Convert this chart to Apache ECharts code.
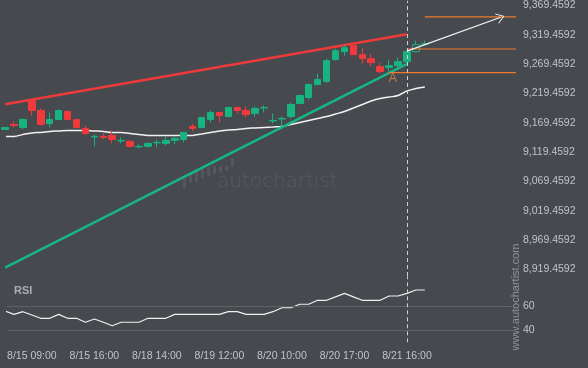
<!DOCTYPE html>
<html><head><meta charset="utf-8">
<script src="https://cdn.jsdelivr.net/npm/echarts@6/dist/echarts.min.js"></script>
<style>html,body{margin:0;padding:0;background:#46494e;}#c{width:588px;height:368px;}</style>
</head><body><div id="c"></div>
<script>
// ---- data ----
const timeLabels = ['8/15 09:00','8/15 16:00','8/18 14:00','8/19 12:00','8/20 10:00','8/20 17:00','8/21 16:00'];
const timeLabelIdx = [3,10,17,24,31,38,45];
const priceTicks = [8919.4592,8969.4592,9019.4592,9069.4592,9119.4592,9169.4592,9219.4592,9269.4592,9319.4592,9369.4592];
const rsiTicks = [40,60];
// candles: [open, close, low, high]
const candles = [
[9158.1,9161.5,9158.1,9161.5],[9166.6,9164.9,9161.5,9171.7],[9161.5,9175.1,9158.1,9176.8],[9207.4,9190.4,9181.9,9207.4],
[9190.4,9166.6,9164.9,9193.8],[9168.3,9175.1,9161.5,9187.0],[9175.1,9190.4,9173.4,9192.1],[9188.7,9175.1,9173.4,9190.4],
[9175.1,9161.5,9159.8,9175.1],[9159.8,9151.3,9149.6,9164.9],[9145.3,9146.2,9129.2,9149.6],[9146.2,9144.5,9141.1,9151.3],
[9147.9,9141.1,9134.3,9156.4],[9138.5,9139.4,9134.3,9144.5],[9137.7,9129.2,9127.5,9139.4],[9128.4,9129.2,9125.8,9132.6],
[9129.2,9134.3,9127.5,9136.0],[9135.1,9136.0,9127.5,9141.1],[9134.3,9139.4,9130.9,9146.2],[9139.4,9142.8,9132.6,9146.2],
[9141.1,9153.0,9136.0,9153.0],[9163.2,9159.8,9154.7,9168.3],[9161.5,9178.5,9159.8,9178.5],[9175.1,9187.0,9170.0,9190.4],
[9187.0,9181.9,9170.0,9187.0],[9180.2,9195.5,9178.5,9197.2],[9195.5,9190.4,9185.3,9195.5],[9190.4,9183.6,9178.5,9197.2],
[9185.3,9193.8,9180.2,9197.2],[9194.6,9195.5,9187.0,9198.9],[9172.5,9173.4,9168.3,9185.3],[9175.9,9176.8,9161.5,9180.2],
[9180.2,9200.6,9176.8,9204.0],[9202.3,9215.9,9200.6,9217.6],[9212.5,9234.6,9209.1,9236.3],[9234.6,9243.1,9234.6,9253.3],
[9239.7,9275.4,9238.0,9278.8],[9277.1,9292.4,9275.4,9295.8],[9290.7,9297.5,9283.9,9302.6],[9300.9,9285.6,9285.6,9302.6],
[9285.6,9278.8,9270.3,9297.5],[9278.8,9272.0,9265.2,9287.3],[9265.2,9256.7,9253.3,9272.0],[9263.5,9266.9,9256.7,9277.1],
[9266.9,9273.7,9263.5,9280.5],[9273.7,9290.7,9272.0,9292.4],[9290.7,9302.6,9289.0,9309.4],[9303.5,9304.3,9300.9,9309.4]
];
const hollowIdx = [46];
const maValues = [9146.2,9146.2,9149.5,9152.1,9153.0,9154.7,9155.5,9156.4,9156.4,9156.4,9155.5,9154.7,9153.0,9153.0,9151.3,9149.6,
9147.9,9147.9,9147.9,9147.9,9147.9,9147.9,9150.4,9153.0,9155.5,9157.2,9158.1,9159.8,9160.6,9161.5,9162.3,9163.2,
9166.6,9170.0,9173.4,9176.8,9180.1,9184.4,9188.7,9194.6,9200.6,9206.5,9210.8,9213.3,9215.9,9223.5,9227.8,9230.3];
const rsiValues = [56.1,53.3,55.5,52.8,50,50,53.3,50,50,46.7,49.4,46.7,43.8,46.7,46.7,46.7,50,50,50,53.3,53.3,53.3,53.3,53.3,
53.3,55.5,55.5,53.3,53.3,53.3,55.5,58.8,58.8,61.7,61.7,65,65,67.9,70.8,67.9,65,65,65,68.6,68.6,70.8,73.6,73.6];
const resistanceLine = [[0,9200.8],[45,9320.5]];
const supportLine = [[0,8922.2],[45,9269.8]];
const forecastArrow = [[45,9291.6],[55.5,9349.4]];
const levelLow = [[43,9255.0],[57.21,9255.0]];
const levelMid = [[45,9295.3],[57.21,9295.3]];
const levelTop = [[47,9350.2],[57.21,9350.2]];
const pointA = [[43.4,9244.8]];
const markIdx = 45;

// ---- build ----
const GREEN='#17b47f', RED='#f23a3c', ORANGE='#f07a2c', TXT='#c0c3c7';
const FONT='Liberation Sans';
const XMIN=0.216, XMAX=57.21;
const candleData = candles.map((c,i)=>{
  const item = {value:[i,c[0],c[1],c[2],c[3]]};
  if (hollowIdx.indexOf(i)>=0) item.itemStyle={color:'rgba(0,0,0,0)',borderColor:GREEN};
  return item;
});
function fmtPrice(v){
  const s=v.toFixed(4); const p=s.split('.');
  return p[0].replace(/\B(?=(\d{3})+(?!\d))/g, ',')+'.'+p[1];
}
const chart = echarts.init(document.getElementById('c'), null, {renderer:'canvas'});
const logoTops=[178,173,169,169,167,166,166,166,158];
const logoBots=[189,183,182,178,176,174,173,171,167];
const logo = logoTops.map((t,k)=>({type:'rect',z:0,silent:true,shape:{x:183+6*k,y:t,width:3,height:logoBots[k]-t,r:1},style:{fill:'#54585e'}}));
chart.setOption({
  backgroundColor:'#46494e',
  animation:false,
  grid:[{left:7,right:72,top:0,height:276},{left:7,right:72,top:276.3,height:66}],
  xAxis:[
    {gridIndex:0,type:'value',min:XMIN,max:XMAX,show:false,splitLine:{show:false}},
    {gridIndex:1,type:'value',min:XMIN,max:XMAX,axisLine:{show:false},axisTick:{show:false},splitLine:{show:false},
     axisLabel:{customValues:timeLabelIdx,margin:8,color:TXT,fontSize:10.5,fontFamily:FONT,
       formatter:v=>timeLabels[timeLabelIdx.indexOf(v)]}}
  ],
  yAxis:[
    {gridIndex:0,type:'value',position:'right',min:8908.06,max:9377.45,axisLine:{show:false},axisTick:{show:false},splitLine:{show:false},
     axisLabel:{customValues:priceTicks,margin:7,align:'left',color:TXT,fontSize:10.5,fontFamily:FONT,formatter:fmtPrice}},
    {gridIndex:1,type:'value',position:'right',min:30,max:85,axisLine:{show:false},axisTick:{show:false},splitLine:{show:false},
     axisLabel:{customValues:rsiTicks,margin:7,align:'left',color:TXT,fontSize:10.5,fontFamily:FONT}}
  ],
  graphic:[
    {type:'text',z:0,silent:true,left:217,top:172,style:{text:'autochartist',fill:'#575b61',font:'300 20px "DejaVu Sans"'}},
    ...logo,
    {type:'text',silent:true,left:14,top:285,style:{text:'RSI',fill:'#a9adb4',font:'bold 11px "Liberation Sans"'}},
    {type:'text',silent:true,x:516,y:297,rotation:Math.PI/2,style:{text:'www.autochartist.com',fill:'#8f939a',font:'11px "Liberation Sans"',align:'center',verticalAlign:'middle'}}
  ],
  series:[
    {type:'line',xAxisIndex:0,yAxisIndex:0,data:maValues.map((v,i)=>[i,v]),smooth:0.4,symbol:'none',z:2,clip:true,
     lineStyle:{color:'#f2f2f2',width:1.5}},
    {type:'line',xAxisIndex:0,yAxisIndex:0,data:resistanceLine,symbol:'none',z:2,clip:true,lineStyle:{color:'#ef3a3a',width:2.5}},
    {type:'line',xAxisIndex:0,yAxisIndex:0,data:supportLine,symbol:'none',z:2,clip:true,lineStyle:{color:'#18b585',width:2.5}},
    {type:'candlestick',xAxisIndex:0,yAxisIndex:0,data:candleData,barWidth:7,z:3,clip:true,
     itemStyle:{color:GREEN,color0:RED,borderColor:GREEN,borderColor0:RED,borderWidth:1},
     markLine:{silent:true,symbol:'none',label:{show:false},lineStyle:{color:'#cfd0d2',type:[4,3],width:1},data:[{xAxis:markIdx}]}},
    {type:'line',xAxisIndex:0,yAxisIndex:0,data:levelLow,symbol:'none',z:4,lineStyle:{color:ORANGE,width:1.2}},
    {type:'line',xAxisIndex:0,yAxisIndex:0,data:levelMid,symbol:'none',z:4,lineStyle:{color:ORANGE,width:1.2}},
    {type:'line',xAxisIndex:0,yAxisIndex:0,data:levelTop,symbol:'none',z:4,lineStyle:{color:ORANGE,width:1.2}},
    {type:'line',xAxisIndex:0,yAxisIndex:0,data:[],z:5,
     markLine:{silent:true,symbol:['none','path://M0,10 L5,0 L10,10 L9,10 L5,2 L1,10 Z'],symbolSize:[11,8],label:{show:false},
       lineStyle:{color:'#f4f4f4',width:1.3,type:'solid'},
       data:[[{coord:forecastArrow[0]},{coord:forecastArrow[1]}]]}},
    {type:'scatter',xAxisIndex:0,yAxisIndex:0,data:pointA,symbolSize:0,z:5,
     label:{show:true,formatter:'A',position:'inside',color:'#e8874a',fontSize:12,fontFamily:FONT}},
    {type:'line',xAxisIndex:1,yAxisIndex:1,data:rsiValues.map((v,i)=>[i,v]),symbol:'none',z:3,clip:true,
     lineStyle:{color:'#f0f0f0',width:1.2},
     markLine:{silent:true,symbol:'none',label:{show:false},
       data:[{yAxis:60,lineStyle:{color:'#5d6262',type:'solid',width:1}},{yAxis:40,lineStyle:{color:'#5d6262',type:'solid',width:1}},
             {xAxis:markIdx,lineStyle:{color:'#cfd0d2',type:[4,3],width:1}}]}}
  ]
});
</script></body></html>
